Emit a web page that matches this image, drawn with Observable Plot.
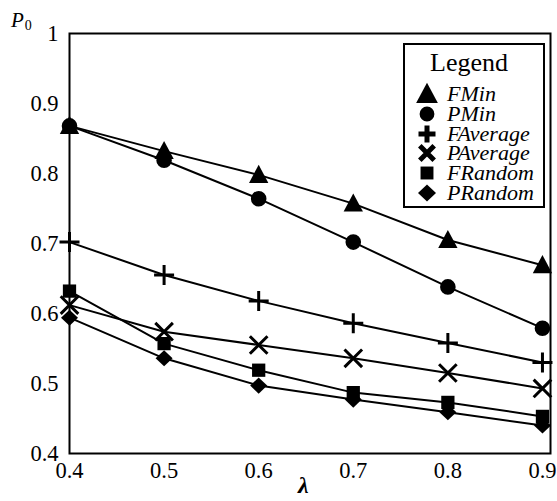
<!DOCTYPE html>
<html>
<head>
<meta charset="utf-8">
<script src="https://cdn.jsdelivr.net/npm/d3@7"></script>
<script src="https://cdn.jsdelivr.net/npm/@observablehq/plot@0.6"></script>
<style>
  html, body { margin: 0; padding: 0; background: #fff; }
  #wrap { position: relative; width: 557px; height: 501px; }
  #wrap svg.plot { position: absolute; left: 0; top: 0; }
  .ov { position: absolute; color: #000; white-space: nowrap; }
  #legend { position: absolute; left: 403px; top: 43px; width: 138px; height: 161px; border: 2.5px solid #000; background: #fff; overflow: hidden; }
  #legend .title { position: absolute; left: 0; width: 128px; text-align: center; top: 4px; font-size: 26px; line-height: 28px; }
  #legend .row { position: absolute; left: 0; height: 19px; width: 200px; }
  #legend .row svg { position: absolute; left: 9px; top: 0; }
  #legend .row span { position: absolute; left: 42px; top: 0px; font-style: italic; font-size: 22px; line-height: 19px; height: 19px; }
</style>
</head>
<body>
<div id="wrap" style="font-family:'Liberation Serif',serif"></div>
<script>
const lambda = [0.4, 0.5, 0.6, 0.7, 0.8, 0.9];
const seriesNames = ["FMin", "PMin", "FAverage", "PAverage", "FRandom", "PRandom"];
const FMin     = [0.868, 0.832, 0.798, 0.757, 0.705, 0.669];
const PMin     = [0.868, 0.819, 0.764, 0.702, 0.638, 0.579];
const FAverage = [0.702, 0.655, 0.618, 0.586, 0.558, 0.530];
const PAverage = [0.612, 0.574, 0.555, 0.536, 0.515, 0.493];
const FRandom  = [0.632, 0.557, 0.519, 0.487, 0.473, 0.453];
const PRandom  = [0.594, 0.536, 0.497, 0.477, 0.459, 0.440];
const yTicks = [0.4, 0.5, 0.6, 0.7, 0.8, 0.9, 1];
const xTicks = [0.4, 0.5, 0.6, 0.7, 0.8, 0.9];

const FONT = "'Liberation Serif', serif";
const values = {FMin, PMin, FAverage, PAverage, FRandom, PRandom};
const rows = seriesNames.flatMap(s => lambda.map((l, i) => ({series: s, lambda: l, p: values[s][i]})));

// custom symbols
const rOf = size => Math.sqrt(size / Math.PI);
const symTriangle = {draw(ctx, size) { const r = rOf(size); const h = r * 1.05; ctx.moveTo(0, -h * 1.2); ctx.lineTo(h * 1.15, h * 0.95); ctx.lineTo(-h * 1.15, h * 0.95); ctx.closePath(); }};
const symCircle = {draw(ctx, size) { const r = rOf(size); ctx.moveTo(r, 0); ctx.arc(0, 0, r, 0, 2 * Math.PI); }};
const symPlus = {draw(ctx, size) { const r = rOf(size); ctx.moveTo(-r, 0); ctx.lineTo(r, 0); ctx.moveTo(0, -r); ctx.lineTo(0, r); }};
const symTimes = {draw(ctx, size) { const r = rOf(size) * 0.8; ctx.moveTo(-r, -r); ctx.lineTo(r, r); ctx.moveTo(r, -r); ctx.lineTo(-r, r); }};
const symSquare = {draw(ctx, size) { const r = rOf(size) * 0.85; ctx.rect(-r, -r, 2 * r, 2 * r); }};
const symDiamond = {draw(ctx, size) { const r = rOf(size); ctx.moveTo(0, -r * 0.95); ctx.lineTo(r, 0); ctx.lineTo(0, r * 0.95); ctx.lineTo(-r, 0); ctx.closePath(); }};

const style = {
  FMin:     {symbol: symTriangle, r: 8, filled: true},
  PMin:     {symbol: symCircle, r: 7.8, filled: true},
  FAverage: {symbol: symPlus, r: 10, filled: false},
  PAverage: {symbol: symTimes, r: 11, filled: false},
  FRandom:  {symbol: symSquare, r: 7.8, filled: true},
  PRandom:  {symbol: symDiamond, r: 8.5, filled: true}
};

const marks = [
  Plot.frame({stroke: "#000", strokeWidth: 2}),
  Plot.axisY({ticks: yTicks, tickSize: 0, tickPadding: 11, tickFormat: d => d === 1 ? "1" : d.toFixed(1), label: null, fontSize: 22.5}),
  Plot.axisX({ticks: xTicks, tickSize: 0, tickPadding: 9, tickFormat: d => d.toFixed(1), label: null, fontSize: 22.5}),
  Plot.line(rows, {x: "lambda", y: "p", z: "series", stroke: "#000", strokeWidth: 2})
];
for (const s of seriesNames) {
  const st = style[s];
  const data = rows.filter(d => d.series === s);
  marks.push(st.filled
    ? Plot.dot(data, {x: "lambda", y: "p", symbol: st.symbol, r: st.r, fill: "#000", stroke: "none"})
    : Plot.dot(data, {x: "lambda", y: "p", symbol: st.symbol, r: st.r, fill: "none", stroke: "#000", strokeWidth: 3}));
}

const chart = Plot.plot({
  width: 557,
  height: 501,
  marginLeft: 69,
  marginRight: 7,
  marginTop: 33,
  marginBottom: 48,
  style: {fontSize: "22px", color: "#000", background: "#fff"},
  x: {domain: [0.4, 0.9085]},
  y: {domain: [0.4, 1]},
  marks
});
chart.classList.add("plot");
chart.setAttribute("font-family", FONT);
chart.style.fontFamily = FONT;
chart.querySelectorAll("text").forEach(t => { t.setAttribute("font-family", FONT); t.style.fontFamily = FONT; });
const wrap = document.getElementById("wrap");
wrap.appendChild(chart);

// axis titles
const yl = document.createElement("div");
yl.className = "ov";
yl.style.left = "11px"; yl.style.top = "8px"; yl.style.fontFamily = FONT;
yl.innerHTML = '<span style="font-style:italic;font-size:21px;">P</span><span style="font-size:14px;position:relative;top:3px;left:1px;">0</span>';
wrap.appendChild(yl);

const xl = document.createElement("div");
xl.className = "ov";
xl.style.left = "298px"; xl.style.top = "472px"; xl.style.fontFamily = FONT;
xl.innerHTML = '<span style="font-style:italic;font-weight:bold;font-size:24px;">λ</span>';
wrap.appendChild(xl);

// legend
const leg = document.createElement("div");
leg.id = "legend";
leg.style.fontFamily = FONT;
leg.innerHTML = '<div class="title">Legend</div>';
seriesNames.forEach((s, i) => {
  const st = style[s];
  const row = document.createElement("div");
  row.className = "row";
  row.style.top = (39 + i * 19.8) + "px";
  const p = d3.path();
  const lr = {FMin: 9, PMin: 7.4, FAverage: 8.5, PAverage: 9, FRandom: 7.6, PRandom: 9}[s];
  st.symbol.draw(p, Math.PI * lr * lr);
  const attrs = st.filled ? 'fill="#000"' : 'fill="none" stroke="#000" stroke-width="5"';
  row.innerHTML = `<svg width="26" height="22" viewBox="-13 -10 26 22" style="overflow:visible"><path d="${p.toString()}" ${attrs}/></svg><span>${s}</span>`;
  leg.appendChild(row);
});
wrap.appendChild(leg);
</script>
</body>
</html>
